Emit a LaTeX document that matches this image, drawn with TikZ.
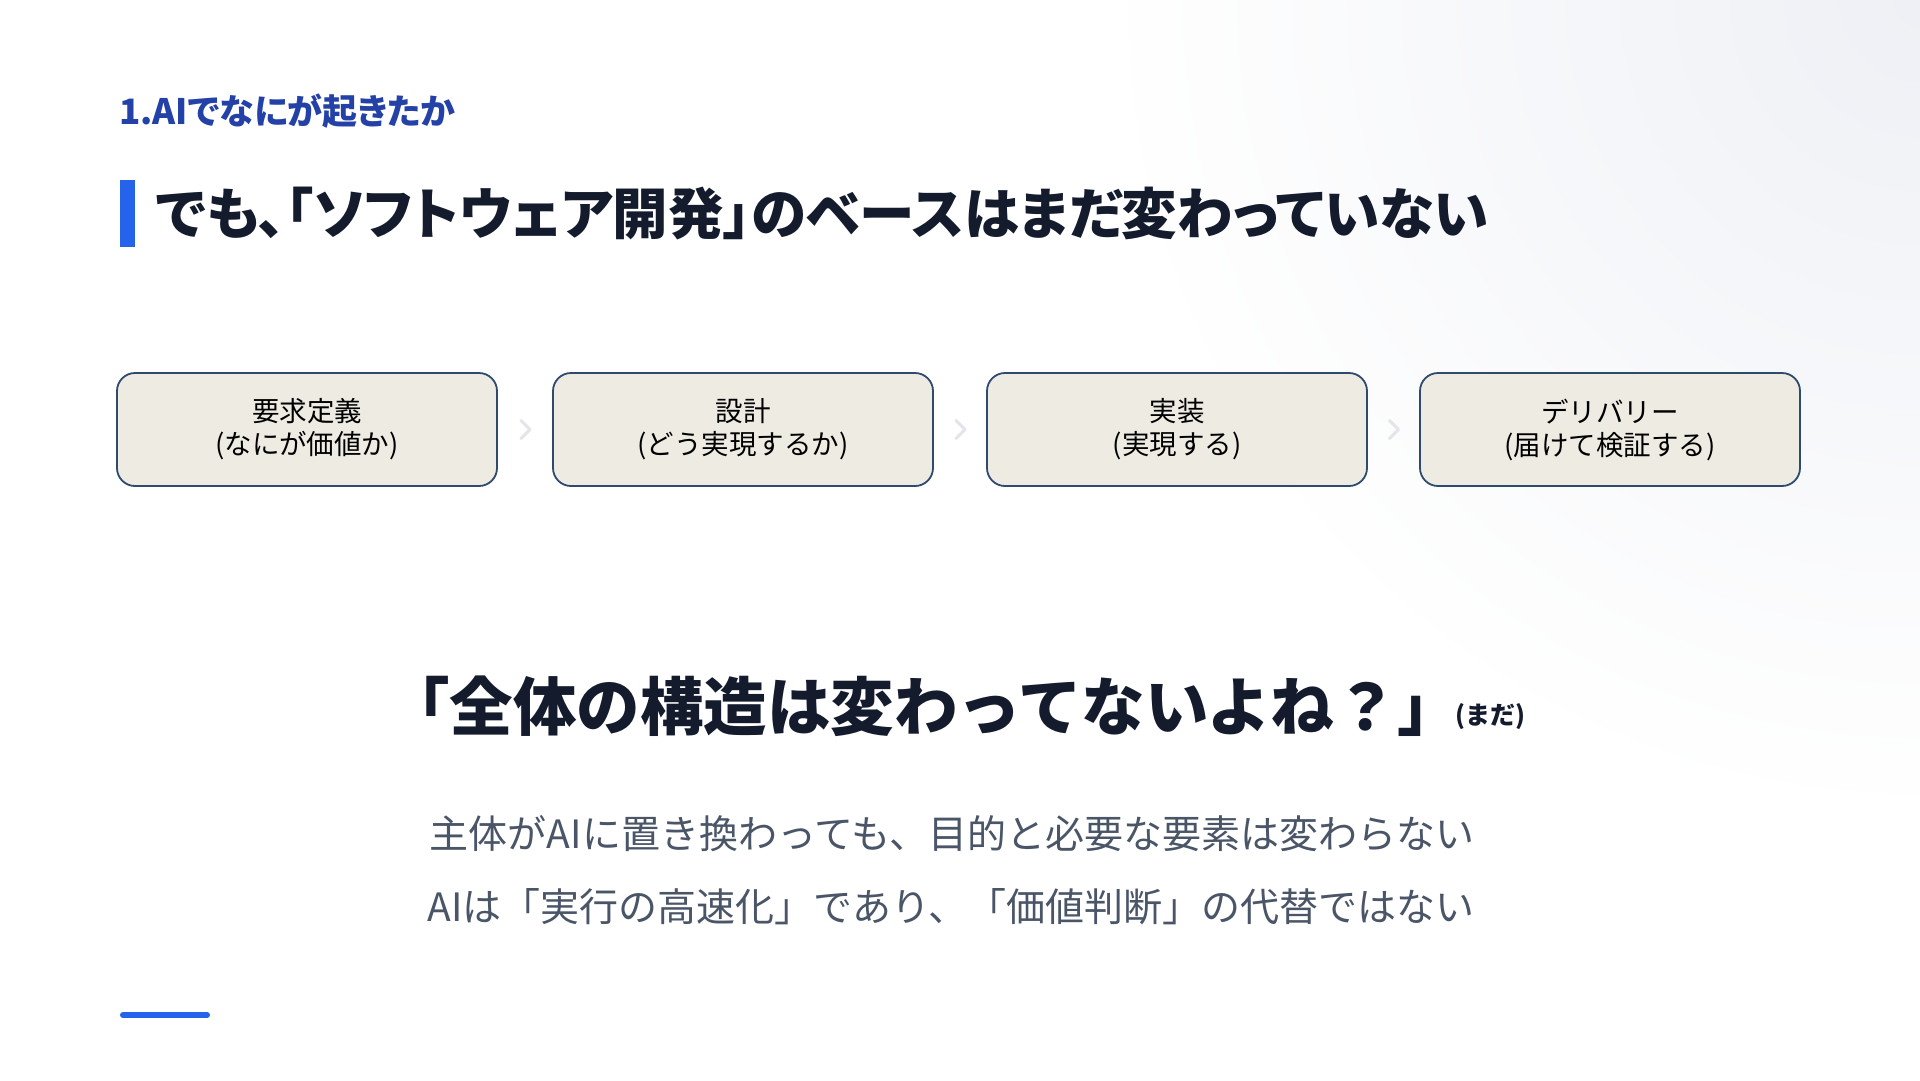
\documentclass[tikz,border=0pt]{standalone}
\usepackage{fontspec}
\setmainfont{Noto Sans CJK JP}
\newfontfamily\jp{Noto Sans CJK JP}
\newfontfamily\jppalt[RawFeature=+palt]{Noto Sans CJK JP}
\usetikzlibrary{calc}
\definecolor{accent}{HTML}{2563EB}
\definecolor{subblue}{HTML}{2341A6}
\definecolor{navy}{HTML}{141B2D}
\definecolor{boxfill}{HTML}{EEEBE2}
\definecolor{boxline}{HTML}{2F4A6E}
\definecolor{bodygray}{HTML}{4A5568}
\definecolor{chev}{HTML}{E3E5EA}
\definecolor{bgtint}{HTML}{EEF0F5}
\tikzset{
  stepbox/.style={draw=boxline, line width=1.8pt, fill=boxfill, rounded corners=18pt,
    minimum width=380pt, minimum height=113pt, align=center, text=black,
    font=\jp\fontsize{27.5}{33}\selectfont, inner sep=0pt},
  chevron/.style={draw=chev, line width=3pt, line cap=round, line join=round},
  bodytext/.style={text=bodygray, font=\jp\fontsize{39}{46}\selectfont, inner sep=0pt}
}
\begin{document}
\begin{tikzpicture}[x=1pt,y=-1pt]
\useasboundingbox (0,0) rectangle (1920,1080);
\begin{scope}
\clip (0,0) rectangle (1920,1080);
\fill[white] (0,0) rectangle (1920,1080);
\shade[inner color=bgtint, outer color=white] (1920,0) circle (820);
\end{scope}
% header
\node[anchor=west, text=subblue, font=\jppalt\bfseries\fontsize{35}{40}\selectfont, inner sep=0pt] (sub) at (119,111) {1.AIでなにが起きたか};
\fill[accent] (120,180) rectangle (135,247);
\node[anchor=west, text=navy, font=\jppalt\bfseries\fontsize{55.5}{60}\selectfont, inner sep=0pt] (title) at (156,214) {でも、「ソフトウェア開発」のベースはまだ変わっていない};
% boxes
\node[stepbox] (b1) at (307,429.5) {要求定義\\(なにが価値か)};
\node[stepbox] (b2) at (743,429.5) {設計\\(どう実現するか)};
\node[stepbox] (b3) at (1177,429.5) {実装\\(実現する)};
\node[stepbox] (b4) at (1610,429.5) {デリバリー\\(届けて検証する)};
\foreach \a/\b in {b1/b2,b2/b3,b3/b4}{
  \coordinate (m) at ($(\a.east)!0.5!(\b.west)$);
  \draw[chevron] ($(m)+(-4,-9)$) -- ($(m)+(5,0)$) -- ($(m)+(-4,9)$);
}
% big quote
\node[anchor=west, text=navy, font=\jp\bfseries\fontsize{63.5}{68}\selectfont, inner sep=0pt] (quote) at (386,706) {「全体の構造は変わってないよね？」};
\node[anchor=west, text=navy, font=\jp\bfseries\fontsize{25}{30}\selectfont, inner sep=0pt] (mada) at (1455,717) {(まだ)};
% body
\node[bodytext] (l1) at (952,834) {主体がAIに置き換わっても、目的と必要な要素は変わらない};
\node[bodytext] (l2) at (951,907) {AIは「実行の高速化」であり、「価値判断」の代替ではない};
% bottom accent
\draw[accent, line width=6pt, line cap=round] (123,1015) -- (207,1015);
\end{tikzpicture}
\end{document}
